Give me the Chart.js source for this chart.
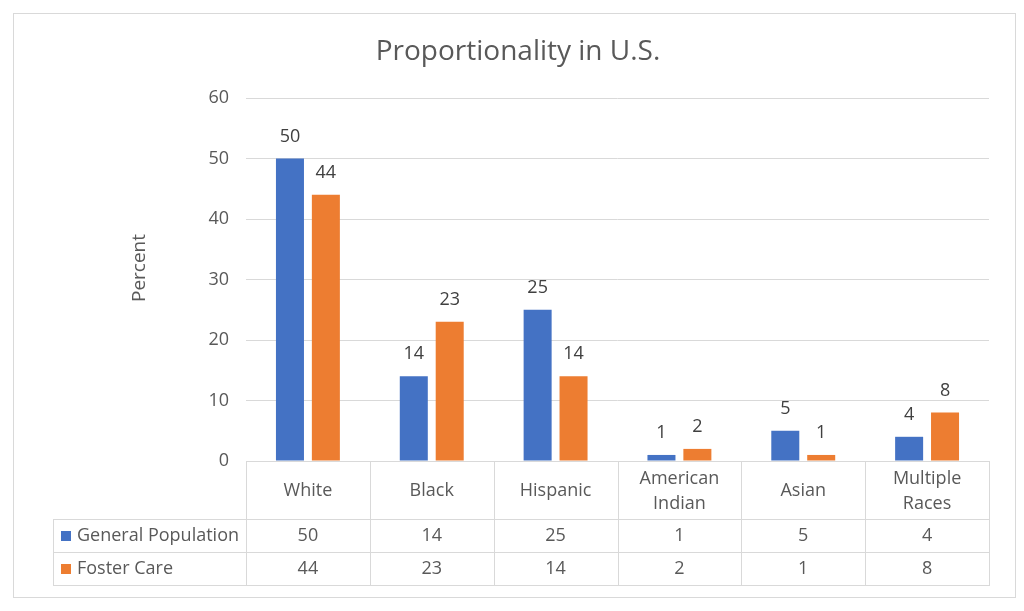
<!DOCTYPE html>
<html>
<head>
<meta charset="utf-8">
<script src="https://cdn.jsdelivr.net/npm/chart.js@4/dist/chart.umd.min.js"></script>
<style>
html,body{margin:0;padding:0;background:#fff;}
#wrap{width:1024px;height:611px;position:relative;}
</style>
</head>
<body>
<div id="wrap"><canvas id="c" width="1024" height="611"></canvas></div>
<script>
const chartTitle = 'Proportionality in U.S.';
const yAxisTitle = 'Percent';
const categories = [['White'], ['Black'], ['Hispanic'], ['American', 'Indian'], ['Asian'], ['Multiple', 'Races']];
const seriesNames = ['General Population', 'Foster Care'];
const generalPopulation = [50, 14, 25, 1, 5, 4];
const fosterCare = [44, 23, 14, 2, 1, 8];
const yTicks = [0, 10, 20, 30, 40, 50, 60];

const FONT = '"Open Sans", "Noto Sans", sans-serif';
const TEXT = '#595959';
const LINE = '#d9d9d9';
const COLORS = ['#4472C4', '#ED7D31'];

const tablePlugin = {
  id: 'excelExtras',
  beforeDraw(chart) {
    const ctx = chart.ctx;
    ctx.save();
    ctx.fillStyle = '#fff';
    ctx.fillRect(0, 0, chart.width, chart.height);
    ctx.strokeStyle = LINE;
    ctx.lineWidth = 1;
    ctx.strokeRect(13.5, 13.5, 1002, 584);
    ctx.restore();
  },
  afterDraw(chart) {
    const ctx = chart.ctx;
    const area = chart.chartArea;
    const x = chart.scales.x;
    ctx.save();
    // title
    ctx.fillStyle = TEXT;
    ctx.font = '28px ' + FONT;
    ctx.textAlign = 'center';
    ctx.textBaseline = 'middle';
    ctx.fillText(chartTitle, 518, 52);

    // y axis title
    ctx.save();
    ctx.translate(140, 268);
    ctx.rotate(-Math.PI / 2);
    ctx.font = '19px ' + FONT;
    ctx.fillText(yAxisTitle, 0, 0);
    ctx.restore();

    // data labels
    ctx.fillStyle = '#404040';
    ctx.font = '18px ' + FONT;
    ctx.textBaseline = 'middle';
    chart.data.datasets.forEach((ds, di) => {
      const meta = chart.getDatasetMeta(di);
      meta.data.forEach((bar, i) => {
        ctx.fillText(String(ds.data[i]), bar.x, bar.y - 22);
      });
    });

    // data table
    const n = categories.length;
    const colW = (area.right - area.left) / n;
    const top = area.bottom;
    const r1 = top + 58, r2 = r1 + 33, r3 = r2 + 33;
    const legL = 53;
    ctx.strokeStyle = LINE;
    ctx.lineWidth = 1;
    ctx.beginPath();
    const hl = (x1, x2, y) => { ctx.moveTo(x1, Math.round(y) + 0.5); ctx.lineTo(x2, Math.round(y) + 0.5); };
    const vl = (xx, y1, y2) => { ctx.moveTo(Math.round(xx) + 0.5, y1); ctx.lineTo(Math.round(xx) + 0.5, y2); };
    hl(area.left, area.right, top);
    hl(legL, area.right, r1);
    hl(legL, area.right, r2);
    hl(legL, area.right, r3);
    vl(legL, Math.round(r1), Math.round(r3) + 1);
    for (let i = 0; i <= n; i++) {
      vl(area.left + colW * i, Math.round(top), Math.round(r3) + 1);
    }
    ctx.stroke();

    ctx.fillStyle = TEXT;
    ctx.font = '18px ' + FONT;
    ctx.textAlign = 'center';
    ctx.textBaseline = 'middle';
    categories.forEach((lines, i) => {
      const cx = x.getPixelForValue(i);
      const mid = (top + r1) / 2 + 1;
      const lh = 25;
      lines.forEach((ln, k) => {
        ctx.fillText(ln, cx, mid + (k - (lines.length - 1) / 2) * lh);
      });
    });
    const rows = [generalPopulation, fosterCare];
    const rowMid = [(r1 + r2) / 2, (r2 + r3) / 2];
    rows.forEach((vals, ri) => {
      vals.forEach((v, i) => {
        ctx.fillText(String(v), x.getPixelForValue(i), rowMid[ri]);
      });
      ctx.fillStyle = COLORS[ri];
      ctx.fillRect(61, Math.round(rowMid[ri]) - 5, 10, 10);
      ctx.fillStyle = TEXT;
      ctx.textAlign = 'left';
      ctx.fillText(seriesNames[ri], 77, rowMid[ri]);
      ctx.textAlign = 'center';
    });
    ctx.restore();
  }
};

new Chart(document.getElementById('c'), {
  type: 'bar',
  data: {
    labels: categories.map(l => l.join(' ')),
    datasets: [
      { label: seriesNames[0], data: generalPopulation, backgroundColor: COLORS[0], barPercentage: 0.78, categoryPercentage: 0.58 },
      { label: seriesNames[1], data: fosterCare, backgroundColor: COLORS[1], barPercentage: 0.78, categoryPercentage: 0.58 }
    ]
  },
  options: {
    responsive: false,
    animation: false,
    devicePixelRatio: 1,
    layout: { padding: { left: 125, right: 35, top: 98, bottom: 150 } },
    plugins: { legend: { display: false }, title: { display: false }, tooltip: { enabled: false } },
    scales: {
      x: { display: false, offset: true },
      y: {
        min: 0, max: 60,
        afterFit(scale) { scale.width = 121; },
        afterBuildTicks(scale) { scale.ticks = yTicks.map(v => ({ value: v })); },
        grid: { color: LINE, lineWidth: 1, drawTicks: false },
        border: { display: false },
        ticks: { color: TEXT, font: { family: FONT, size: 18 }, padding: 17 },
        title: { display: false }
      }
    }
  },
  plugins: [tablePlugin]
});
</script>
</body>
</html>
